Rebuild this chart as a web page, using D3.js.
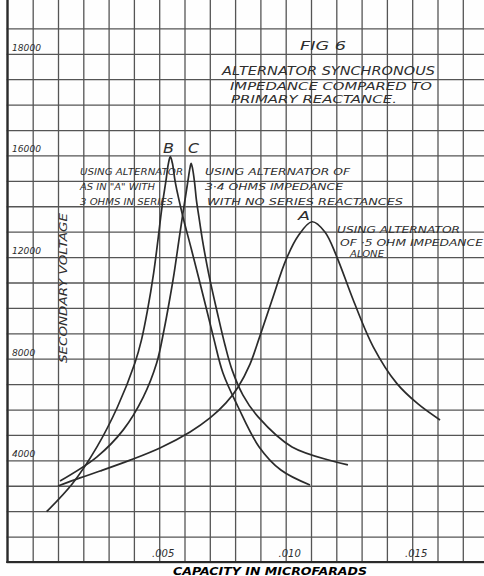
<!DOCTYPE html>
<html>
<head>
<meta charset="utf-8">
<script src="https://cdnjs.cloudflare.com/ajax/libs/d3/7.8.5/d3.min.js"></script>
<style>
  body { margin: 0; background: #fff; }
  text { font-family: "DejaVu Sans", sans-serif; font-style: italic; fill: #2e2e2e; }
</style>
</head>
<body>
<script>
// values (capacity in microfarads, secondary voltage)
let aCapacity = [0.00100, 0.00187, 0.00266, 0.00385, 0.00503, 0.00622, 0.00701, 0.00764, 0.00812, 0.00859, 0.00898, 0.00946, 0.01001, 0.01049, 0.01104, 0.01155, 0.01202, 0.01267, 0.01346, 0.01439, 0.01523, 0.0161];
let aVoltage  = [2990, 3310, 3580, 4010, 4490, 5120, 5670, 6260, 6890, 7790, 8890, 10310, 11890, 12830, 13390, 12990, 12010, 10310, 8470, 7030, 6220, 5590];

let bCapacity = [0.00055, 0.00159, 0.00254, 0.00335, 0.00404, 0.0043, 0.00454, 0.00478, 0.00495, 0.00511, 0.00527, 0.00536, 0.00544, 0.00552, 0.00564, 0.00594, 0.00628, 0.00675, 0.00717, 0.00752, 0.00812, 0.00895, 0.00981, 0.01096];
let bVoltage  = [1980, 3110, 4530, 6100, 7830, 8740, 9920, 11370, 12670, 13970, 15030, 15660, 15950, 15700, 14920, 13580, 12280, 10430, 8740, 7440, 6100, 4530, 3620, 3030];

let cCapacity = [0.00108, 0.00253, 0.00358, 0.00437, 0.0049, 0.00519, 0.00541, 0.00559, 0.00578, 0.00594, 0.00608, 0.00617, 0.00623, 0.00626, 0.00631, 0.0064, 0.00647, 0.00657, 0.00671, 0.00695, 0.0073, 0.0076, 0.00788, 0.00831, 0.00891, 0.01025, 0.01246];
let cVoltage  = [3190, 4130, 5200, 6490, 7830, 9130, 10310, 11370, 12670, 13740, 14640, 15230, 15580, 15690, 15530, 14920, 14250, 13580, 12670, 11370, 9800, 8540, 7560, 6570, 5710, 4530, 3820];

let xTicks = [0.005, 0.010, 0.015];
let xTickLabels = ['.005', '.010', '.015'];
let yTicks = [20000, 16000, 12000, 8000, 4000];
let yTickLabels = ['18000', '16000', '12000', '8000', '4000'];
let gridCapacity = [-0.001, 0, 0.001, 0.002, 0.003, 0.004, 0.005, 0.006, 0.007, 0.008, 0.009, 0.010, 0.011, 0.012, 0.013, 0.014, 0.015, 0.016, 0.017, 0.018];
let gridVoltage = [0, 1000, 2000, 3000, 4000, 5000, 6000, 7000, 8000, 9000, 10000, 11000, 12000, 13000, 14000, 15000, 16000, 17000, 18000, 19000, 20000, 21000];

let width = 484, height = 576;
let left = 6.7, bottom = 562;

let svg = d3.select('body')
  .append('svg')
  .attr('width', width)
  .attr('height', height)
  .style('background-color', '#fefefe');

let xScale = d3.scaleLinear().domain([0, 0.015]).range([32.7, 412.2]);
let yScale = d3.scaleLinear().domain([0, 20000]).range([bottom, 53.8]);

// squared paper: vertical rulings
svg.append('g')
  .attr('transform', 'translate(0,' + bottom + ')')
  .call(d3.axisBottom(xScale).tickValues(gridCapacity).tickSize(-bottom).tickFormat(''))
  .call(g => g.select('.domain').remove())
  .call(g => g.selectAll('line').attr('stroke', '#555').attr('stroke-width', 1.3));

// horizontal rulings
svg.append('g')
  .attr('transform', 'translate(' + left + ',0)')
  .call(d3.axisLeft(yScale).tickValues(gridVoltage).tickSize(-(width - left)).tickFormat(''))
  .call(g => g.select('.domain').remove())
  .call(g => g.selectAll('line').attr('stroke', '#555').attr('stroke-width', 1.3));

// heavier border left and bottom
svg.append('line')
  .attr('x1', xScale(-0.001)).attr('x2', xScale(-0.001))
  .attr('y1', 0).attr('y2', bottom + 1)
  .attr('stroke', '#2a2a2a').attr('stroke-width', 2.2);
svg.append('line')
  .attr('x1', xScale(-0.001) - 1).attr('x2', width)
  .attr('y1', yScale(0)).attr('y2', yScale(0))
  .attr('stroke', '#2a2a2a').attr('stroke-width', 2.2);

// tick labels
svg.selectAll('.ytick')
  .data(yTicks)
  .enter()
  .append('text')
  .attr('class', 'ytick')
  .attr('x', 12)
  .attr('y', d => yScale(d) - 3)
  .attr('font-size', 9)
  .attr('textLength', (d, i) => yTickLabels[i].length * 5.8)
  .attr('lengthAdjust', 'spacingAndGlyphs')
  .text((d, i) => yTickLabels[i]);

svg.selectAll('.xtick')
  .data(xTicks)
  .enter()
  .append('text')
  .attr('class', 'xtick')
  .attr('x', d => xScale(d) + 4)
  .attr('y', bottom - 5)
  .attr('text-anchor', 'middle')
  .attr('font-size', 10)
  .text((d, i) => xTickLabels[i]);

// curves
let line = d3.line()
  .x(d => xScale(d[0]))
  .y(d => yScale(d[1]))
  .curve(d3.curveCatmullRom.alpha(0.5));

let curves = [
  d3.zip(aCapacity, aVoltage),
  d3.zip(bCapacity, bVoltage),
  d3.zip(cCapacity, cVoltage)
];

svg.selectAll('.curve')
  .data(curves)
  .enter()
  .append('path')
  .attr('class', 'curve')
  .attr('d', line)
  .attr('fill', 'none')
  .attr('stroke', '#2b2b2b')
  .attr('stroke-width', 1.7);

// lettering
let note = (x, y, size, len, str) => {
  svg.append('text')
    .attr('x', x)
    .attr('y', y)
    .attr('font-size', size)
    .attr('textLength', len)
    .attr('lengthAdjust', 'spacingAndGlyphs')
    .text(str);
};

note(300, 50, 12, 46, 'FIG 6');
note(222, 75, 12, 213, 'ALTERNATOR SYNCHRONOUS');
note(230, 90, 10.5, 202, 'IMPEDANCE COMPARED TO');
note(231, 103, 10.5, 166, 'PRIMARY REACTANCE.');

note(163, 153, 14, 11, 'B');
note(188, 153, 14, 11, 'C');
note(298, 220, 12, 12, 'A');

note(80, 175, 8, 103, 'USING ALTERNATOR');
note(80, 190, 8, 75, 'AS IN "A" WITH');
note(80, 205, 8, 93, '3 OHMS IN SERIES');

note(205, 175, 8, 145, 'USING ALTERNATOR OF');
note(205, 190, 8, 138, '3·4 OHMS IMPEDANCE');
note(207, 205, 8, 196, 'WITH NO SERIES REACTANCES');

note(337, 233, 8, 123, 'USING ALTERNATOR');
note(340, 246, 8, 143, 'OF ·5 OHM IMPEDANCE');
note(350, 257, 8, 34, 'ALONE');

svg.append('text')
  .attr('transform', 'translate(67,288) rotate(-90)')
  .attr('text-anchor', 'middle')
  .attr('font-size', 11)
  .attr('textLength', 150)
  .attr('lengthAdjust', 'spacingAndGlyphs')
  .text('SECONDARY VOLTAGE');

svg.append('text')
  .attr('x', 173)
  .attr('y', 575)
  .attr('font-size', 10)
  .attr('font-weight', 'bold')
  .attr('textLength', 194)
  .attr('lengthAdjust', 'spacingAndGlyphs')
  .style('fill', '#000')
  .text('CAPACITY IN MICROFARADS');
</script>
</body>
</html>
